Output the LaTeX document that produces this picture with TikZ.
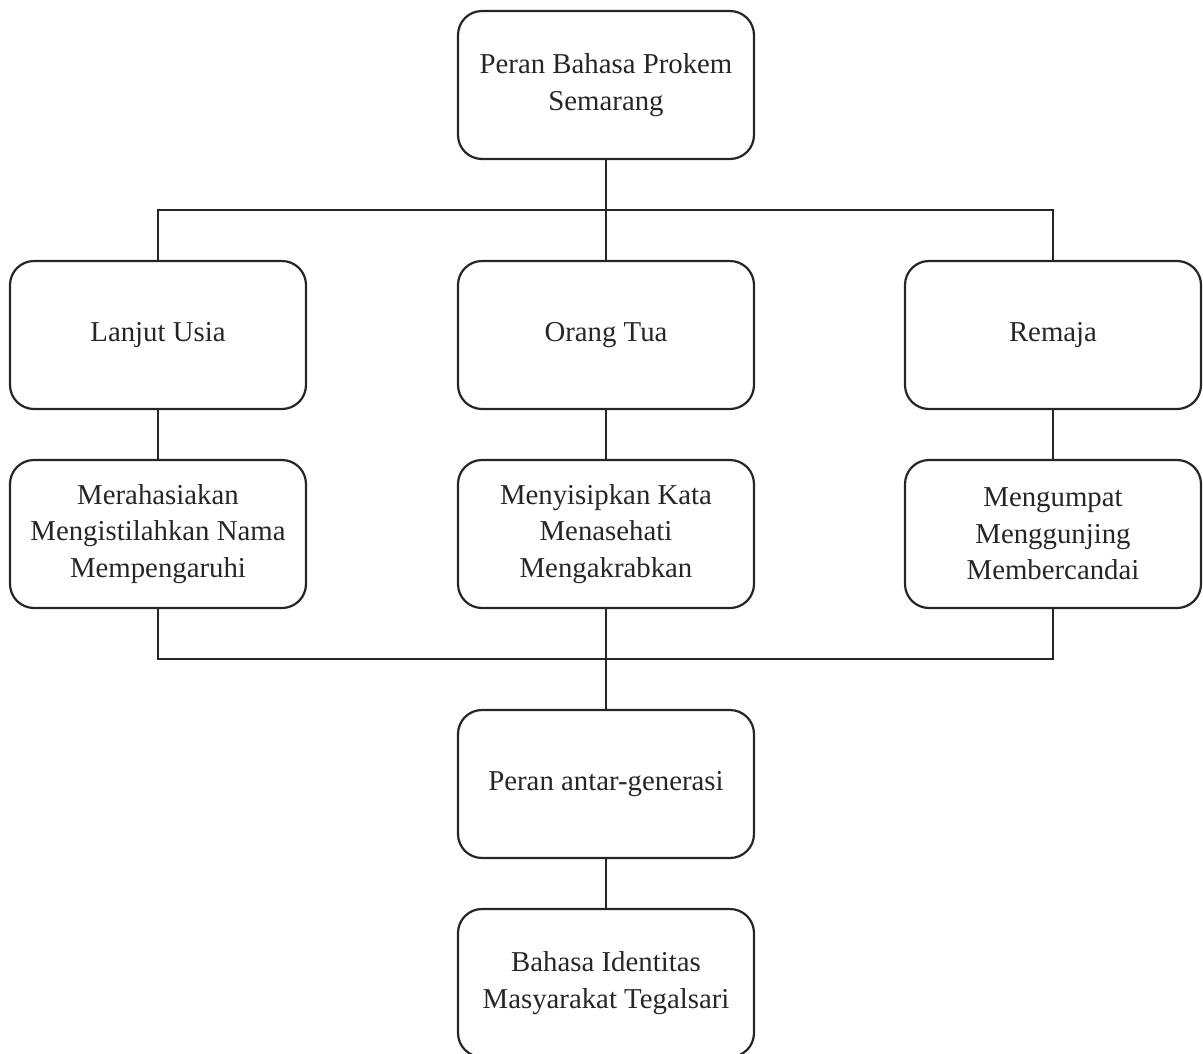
\documentclass[tikz,border=0pt]{standalone}
\usepackage{fontspec}
\setmainfont{Liberation Serif}
\begin{document}
\begin{tikzpicture}[x=1pt,y=-1pt,
  box/.style={draw=black!85, line width=2.2pt, rounded corners=24pt,
    minimum width=296pt, minimum height=148pt, align=center, inner sep=0pt,
    font=\fontsize{28.8}{36.5}\selectfont, text=black!85},
  conn/.style={draw=black!85, line width=2.2pt}]
\useasboundingbox (0,0) rectangle (1203,1053);
\begin{scope}
\clip (0,0) rectangle (1203,1053);
\node[box] (top) at (606,85) {Peran Bahasa Prokem\\Semarang};
\node[box] (lu) at (158,335) {Lanjut Usia};
\node[box] (ot) at (606,335) {Orang Tua};
\node[box] (re) at (1053,335) {Remaja};
\node[box] (lu2) at (158,534) {Merahasiakan\\Mengistilahkan Nama\\Mempengaruhi};
\node[box] (ot2) at (606,534) {Menyisipkan Kata\\Menasehati\\Mengakrabkan};
\node[box] (re2) at (1053,534) {Mengumpat\\Menggunjing\\Membercandai};
\node[box] (pa) at (606,784) {Peran antar-generasi};
\node[box] (bi) at (606,983) {Bahasa Identitas\\Masyarakat Tegalsari};
\coordinate (j1) at (606,210);
\coordinate (j2) at (606,659);
\draw[conn] (top.south) -- (j1);
\draw[conn] (j1) -- (ot.north);
\draw[conn] (lu.north) |- (j1) -| (re.north);
\draw[conn] (lu) -- (lu2);
\draw[conn] (ot) -- (ot2);
\draw[conn] (re) -- (re2);
\draw[conn] (lu2.south) |- (j2) -| (re2.south);
\draw[conn] (ot2.south) -- (j2);
\draw[conn] (j2) -- (pa.north);
\draw[conn] (pa) -- (bi);
\end{scope}
\end{tikzpicture}
\end{document}
